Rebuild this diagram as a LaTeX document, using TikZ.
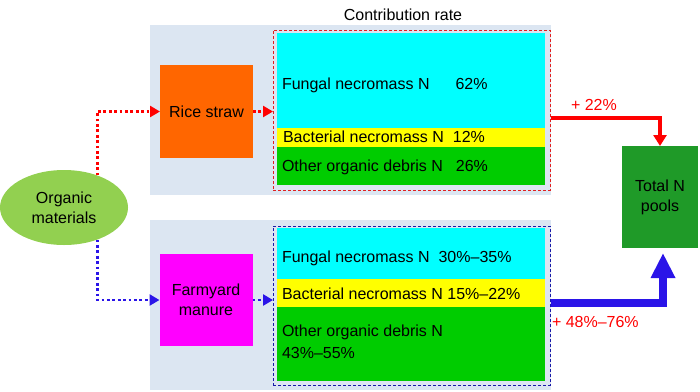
\documentclass[tikz,border=0pt]{standalone}
\usepackage{fontspec}
\setmainfont{Liberation Sans}
\usetikzlibrary{arrows.meta,calc,shapes.geometric}
\definecolor{panelblue}{HTML}{DCE6F2}
\definecolor{riceor}{HTML}{FF6600}
\definecolor{farmmag}{HTML}{FF00FF}
\definecolor{bandcyan}{HTML}{00FFFF}
\definecolor{bandyellow}{HTML}{FFFF00}
\definecolor{bandgreen}{HTML}{00CC00}
\definecolor{orggreen}{HTML}{92D050}
\definecolor{totgreen}{HTML}{1F9A28}
\definecolor{arrred}{HTML}{FF0000}
\definecolor{arrblue}{HTML}{2A14E8}
\definecolor{dashred}{HTML}{E02020}
\definecolor{dashblue}{HTML}{1A1AA8}
\tikzset{
  every node/.style={font=\fontsize{16}{20}\selectfont, inner sep=0pt, outer sep=0pt},
  panel/.style={draw=none, fill=panelblue, anchor=north west},
  band/.style={draw=none, anchor=north west},
  srcbox/.style={draw=none, minimum width=93pt, minimum height=93pt, align=center},
  dashbox/.style={draw, line width=1pt, dash pattern=on 3pt off 2pt, anchor=north west},
  lbl/.style={anchor=west, align=left},
  dotarrow/.style={line width=2.8pt, dash pattern=on 2.8pt off 2.6pt, -{Triangle[length=10pt,width=11pt]}},
  redlbl/.style={text=arrred, anchor=west}
}
\begin{document}
\begin{tikzpicture}[x=1pt,y=-1pt]
\useasboundingbox (0,0) rectangle (700,391);
% panels
\node[panel, minimum width=401pt, minimum height=170pt] (ptop) at (150,25) {};
\node[panel, minimum width=401pt, minimum height=170pt] (pbot) at (150,220) {};
\node (title) at (403,15) {Contribution rate};
% top bands
\node[band, fill=bandcyan, minimum width=268pt, minimum height=95pt] (c1) at (277,33) {};
\node[band, fill=bandyellow, minimum width=268pt, minimum height=19pt] (y1) at (277,128) {};
\node[band, fill=bandgreen, minimum width=268pt, minimum height=38pt] (g1) at (277,147) {};
\node[dashbox, draw=dashred, minimum width=277pt, minimum height=160pt] (redbox) at (273,30) {};
\node[lbl] (t1) at (282,85) {Fungal\ necromass\ N\hspace{26pt}62\%};
\node[lbl] (t2) at (283,137) {Bacterial\ necromass\ N\hspace{9pt}12\%};
\node[lbl] (t3) at (282,167) {Other\ organic\ debris\ N\hspace{13pt}26\%};
% bottom bands
\node[band, fill=bandcyan, minimum width=268pt, minimum height=51pt] (c2) at (277,228) {};
\node[band, fill=bandyellow, minimum width=268pt, minimum height=28pt] (y2) at (277,279) {};
\node[band, fill=bandgreen, minimum width=268pt, minimum height=74pt] (g2) at (277,307) {};
\node[dashbox, draw=dashblue, minimum width=277pt, minimum height=159pt] (bluebox) at (273,226) {};
\node[lbl] (t4) at (282,258) {Fungal\ necromass\ N\hspace{9pt}30\%--35\%};
\node[lbl] (t5) at (282,294) {Bacterial\ necromass\ N\ 15\%--22\%};
\node[lbl] (t6) at (282,332) {Other\ organic\ debris\ N};
\node[lbl] (t7) at (282,353) {43\%--55\%};
% sources
\node[srcbox, fill=riceor] (rice) at (206.5,111.5) {Rice straw};
\node[srcbox, fill=farmmag, minimum height=92pt] (farm) at (206,300) {Farmyard\\manure};
\node[ellipse, fill=orggreen, minimum width=128pt, minimum height=75pt, align=center] (org) at (64,207.5) {Organic\\materials};
\node[fill=totgreen, minimum width=76pt, minimum height=102pt, align=center] (total) at (660,197) {Total N\\pools};
% dotted connectors
\draw[dotarrow, draw=arrred] (org.44) |- (rice.west);
\draw[dotarrow, draw=arrred] (rice.east) -- (rice.east -| redbox.west);
\draw[dotarrow, draw=arrblue] (org.-44) |- (farm.west);
\draw[dotarrow, draw=arrblue] (farm.east) -- (farm.east -| bluebox.west);
% solid arrows
\coordinate (r1) at ($(redbox.east)+(1,8)$);
\draw[arrred, line width=4pt, -{Triangle[length=11pt,width=13pt]}] (r1) -| (total.north);
\coordinate (b1) at ($(bluebox.east)+(1,-3)$);
\draw[arrblue, line width=8pt, shorten >=5pt, -{Triangle[length=25pt,width=23pt]}] (b1) -| ($(total.south)+(3,0)$);
\node[redlbl] (l1) at (571,105) {+ 22\%};
\node[redlbl] (l2) at (552,322) {+ 48\%--76\%};
\end{tikzpicture}
\end{document}
